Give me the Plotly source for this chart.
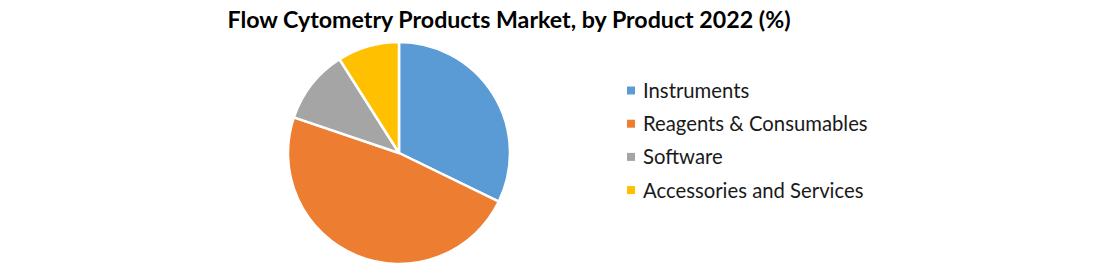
import plotly.graph_objects as go

labels = ["Instruments", "Reagents & Consumables", "Software", "Accessories and Services"]
values = [32.2, 48.0, 10.8, 9.0]
colors = ["#5B9BD5", "#ED7D31", "#A5A5A5", "#FFC000"]

W, H = 1096, 266
cx, cy, r = 399, 153, 111

fig = go.Figure(go.Pie(
    labels=labels,
    values=values,
    sort=False,
    direction="clockwise",
    rotation=0,
    marker=dict(colors=colors, line=dict(color="white", width=2.5)),
    textinfo="none",
    hoverinfo="label+percent",
    showlegend=False,
    domain=dict(x=[(cx - r) / W, (cx + r) / W], y=[(H - cy - r) / H, (H - cy + r) / H]),
))

# Legend drawn as squares + text, laid out from the label/colour lists
leg_x, leg_y0, leg_dy, sq = 631, 90.5, 33.2, 8
shapes, annotations = [], []
for i, (lab, col) in enumerate(zip(labels, colors)):
    yc = leg_y0 + i * leg_dy
    shapes.append(dict(
        type="rect", xref="paper", yref="paper",
        x0=(leg_x - sq / 2) / W, x1=(leg_x + sq / 2) / W,
        y0=1 - (yc + sq / 2) / H, y1=1 - (yc - sq / 2) / H,
        fillcolor=col, line=dict(width=0),
    ))
    annotations.append(dict(
        text=lab, xref="paper", yref="paper",
        x=641 / W, xanchor="left", y=1 - (yc - 0.5) / H, yanchor="middle",
        showarrow=False,
        font=dict(family="Lato, Open Sans, sans-serif", size=20.3, color="#1a1a1a"),
    ))

fig.update_layout(
    width=W, height=H,
    margin=dict(l=0, r=0, t=0, b=0),
    paper_bgcolor="white",
    plot_bgcolor="white",
    title=dict(
        text="<b>Flow Cytometry Products Market, by Product 2022 (%)</b>",
        x=509 / W, xanchor="center", y=1 - 20 / H, yanchor="middle",
        font=dict(family="Lato, Open Sans, sans-serif", size=23.2, color="black"),
    ),
    shapes=shapes,
    annotations=annotations,
)

fig.write_html("out.html")
